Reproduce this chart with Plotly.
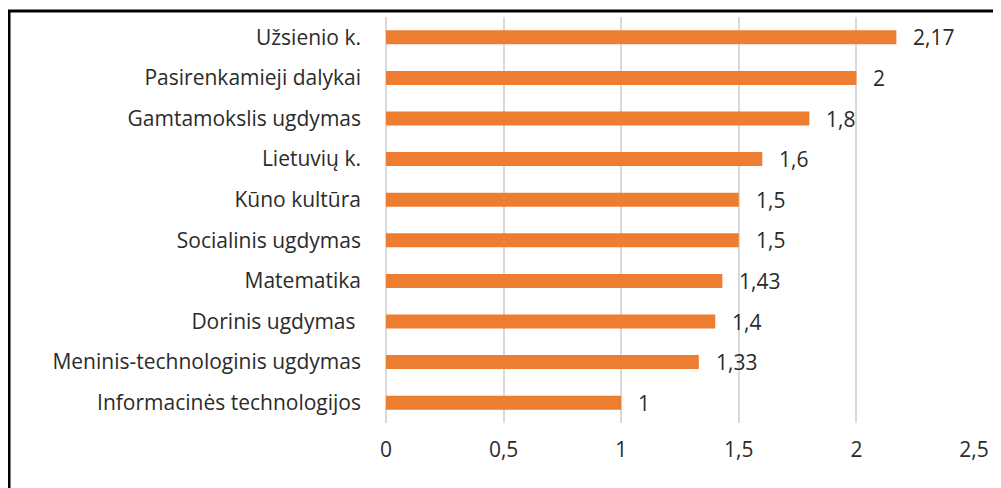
import plotly.graph_objects as go

categories = [
    "Užsienio k.",
    "Pasirenkamieji dalykai",
    "Gamtamokslis ugdymas",
    "Lietuvių k.",
    "Kūno kultūra",
    "Socialinis ugdymas",
    "Matematika",
    "Dorinis ugdymas ",
    "Meninis-technologinis ugdymas",
    "Informacinės technologijos",
]
values = [2.17, 2, 1.8, 1.6, 1.5, 1.5, 1.43, 1.4, 1.33, 1]
tick_vals = [0, 0.5, 1, 1.5, 2, 2.5]
tick_text = ["0", "0,5", "1", "1,5", "2", "2,5"]

def fmt(v):
    return ("%g" % v).replace(".", ",")

FONT = "Open Sans"
FS = 21
TXT = "#2b2b2b"

fig = go.Figure()
fig.add_trace(go.Bar(
    x=values, y=categories, orientation="h",
    marker=dict(color="#ED7D31", line=dict(width=0)),
    hoverinfo="x+y",
))

annotations = []
for c, v in zip(categories, values):
    annotations.append(dict(
        x=v, y=c, xref="x", yref="y", text=fmt(v), showarrow=False,
        xanchor="left", yanchor="middle", xshift=15,
        font=dict(family=FONT, size=FS, color=TXT),
    ))

# page body has an 8px margin: figure spans window x 8..1001, y 8..488
OFF = 8
W, H = 1001 - OFF, 488 - OFF
L, R, T, B = 386 - OFF, 27, 17 - OFF, 65
pw, ph = W - L - R, H - T - B

def px(x):
    return (x - OFF - L) / pw

def py(y):
    return (H - B - (y - OFF)) / ph

shapes = [
    dict(type="line", xref="paper", yref="paper", x0=px(8), x1=px(1001), y0=py(11), y1=py(11),
         line=dict(color="#000000", width=3)),
    dict(type="line", xref="paper", yref="paper", x0=px(9), x1=px(9), y0=py(10), y1=py(488),
         line=dict(color="#000000", width=3)),
]

fig.update_layout(
    width=W, height=H,
    margin=dict(l=L, r=R, t=T, b=B),
    paper_bgcolor="white", plot_bgcolor="white",
    bargap=0.655,
    showlegend=False,
    font=dict(family=FONT, size=FS, color=TXT),
    annotations=annotations,
    shapes=shapes,
    xaxis=dict(
        range=[0, 2.5], tickvals=tick_vals, ticktext=tick_text,
        showgrid=True, gridcolor="#d9d9d9", gridwidth=1.5,
        zeroline=True, zerolinecolor="#d9d9d9", zerolinewidth=1.5,
        showline=False, ticks="", ticklabelstandoff=12,
        tickfont=dict(family=FONT, size=FS, color=TXT),
        fixedrange=True,
    ),
    yaxis=dict(
        autorange="reversed", showgrid=False, zeroline=False, showline=False,
        ticks="", ticklabelstandoff=24,
        tickfont=dict(family=FONT, size=FS, color=TXT),
        fixedrange=True,
    ),
)

fig.write_html("out.html")
